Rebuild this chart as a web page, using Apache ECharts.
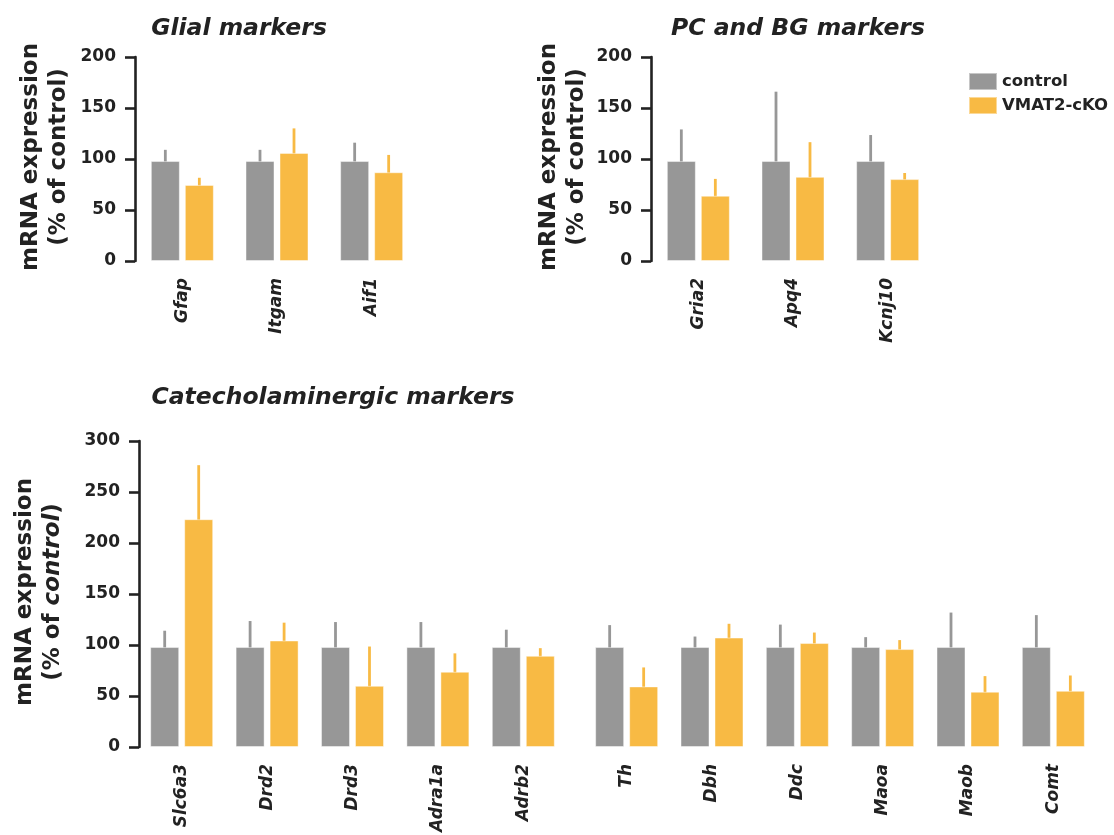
<!DOCTYPE html>
<html>
<head>
<meta charset="utf-8">
<script src="https://cdn.jsdelivr.net/npm/echarts@6/dist/echarts.min.js"></script>
<style>
html,body{margin:0;padding:0;background:#fff;}
#chart{width:1114px;height:835px;}
</style>
</head>
<body>
<div id="chart"></div>
<script>
// ---------- DATA ----------
const seriesNames = ['control', 'VMAT2-cKO'];

const glialCats = ['Gfap', 'Itgam', 'Aif1'];
const glialCtrl = [98, 98, 98];
const glialCtrlErr = [11, 11, 18];
const glialKO = [74.6, 106, 87];
const glialKOErr = [7, 24, 17];

const pcCats = ['Gria2', 'Apq4', 'Kcnj10'];
const pcCtrl = [98, 98, 98];
const pcCtrlErr = [31, 68, 25.5];
const pcKO = [64, 82.5, 80.3];
const pcKOErr = [16.5, 34, 6];

const recCats = ['Slc6a3', 'Drd2', 'Drd3', 'Adra1a', 'Adrb2'];
const recCtrl = [98, 98, 98, 98, 98];
const recCtrlErr = [16, 25.5, 24.5, 24.5, 17];
const recKO = [223.3, 104.4, 60, 73.8, 89.4];
const recKOErr = [53, 17.5, 38.5, 18, 7.5];

const enzCats = ['Th', 'Dbh', 'Ddc', 'Maoa', 'Maob', 'Comt'];
const enzCtrl = [98, 98, 98, 98, 98, 98];
const enzCtrlErr = [21.5, 10.3, 22, 9.7, 33.8, 31.3];
const enzKO = [59.4, 107.3, 101.9, 96, 54.2, 55.1];
const enzKOErr = [18.6, 13.5, 10.3, 8.8, 15.3, 15];

const topTicks = [0, 50, 100, 150, 200];
const bottomTicks = [0, 50, 100, 150, 200, 250, 300];

// ---------- STYLE ----------
const FONT = 'DejaVu Sans';
const GRAY = '#979797';
const ORANGE = '#F8BA44';
const BAR_W = 29;
const GAP_PX = 5;
const AXIS_COLOR = '#222';

const panels = [
  {cats: glialCats, ctrl: glialCtrl, ctrlErr: glialCtrlErr, ko: glialKO, koErr: glialKOErr,
   grid: {left: 135, top: 57, width: 284, height: 204}, ticks: topTicks, showY: true},
  {cats: pcCats, ctrl: pcCtrl, ctrlErr: pcCtrlErr, ko: pcKO, koErr: pcKOErr,
   grid: {left: 651, top: 57, width: 284, height: 204}, ticks: topTicks, showY: true},
  {cats: recCats, ctrl: recCtrl, ctrlErr: recCtrlErr, ko: recKO, koErr: recKOErr,
   grid: {left: 139, top: 441, width: 427, height: 306}, ticks: bottomTicks, showY: true},
  {cats: enzCats, ctrl: enzCtrl, ctrlErr: enzCtrlErr, ko: enzKO, koErr: enzKOErr,
   grid: {left: 584, top: 441, width: 512, height: 306}, ticks: bottomTicks, showY: false}
];

const grids = [], xAxes = [], yAxes = [], series = [];

function errRenderer(offset, color) {
  return function (params, api) {
    const i = api.value(0);
    const base = api.coord([i, api.value(1)]);
    const top = api.coord([i, api.value(2)]);
    return {
      type: 'line',
      shape: {x1: base[0] + offset, y1: base[1] + 1, x2: base[0] + offset, y2: top[1]},
      style: {stroke: color, lineWidth: 2.8}
    };
  };
}

panels.forEach((p, gi) => {
  grids.push(Object.assign({containLabel: false}, p.grid));
  xAxes.push({
    type: 'category', gridIndex: gi, data: p.cats,
    axisLine: {show: false}, axisTick: {show: false},
    axisLabel: {rotate: 90, margin: 17, fontFamily: FONT, fontSize: 17,
      fontWeight: 'bold', fontStyle: 'italic', color: '#222'}
  });
  const maxV = p.ticks[p.ticks.length - 1];
  yAxes.push({
    type: 'value', gridIndex: gi, min: p.ticks[0], max: maxV, interval: p.ticks[1] - p.ticks[0],
    show: p.showY,
    splitLine: {show: false},
    axisLine: {show: true, lineStyle: {color: AXIS_COLOR, width: 2.6}},
    axisTick: {show: true, length: 10, lineStyle: {color: AXIS_COLOR, width: 2.6}},
    axisLabel: {margin: 19, fontFamily: FONT, fontSize: 17, fontWeight: 'bold', color: '#222'}
  });
  const gapPct = (GAP_PX / BAR_W * 100).toFixed(2) + '%';
  series.push({
    name: seriesNames[0], type: 'bar', xAxisIndex: gi, yAxisIndex: gi,
    data: p.ctrl, barWidth: BAR_W, barGap: gapPct,
    itemStyle: {color: GRAY, borderColor: 'rgba(255,255,255,0.45)', borderWidth: 1}
  });
  series.push({
    name: seriesNames[1], type: 'bar', xAxisIndex: gi, yAxisIndex: gi,
    data: p.ko, barWidth: BAR_W, barGap: gapPct,
    itemStyle: {color: ORANGE, borderColor: 'rgba(255,255,255,0.45)', borderWidth: 1}
  });
  const off = (BAR_W + GAP_PX) / 2;
  series.push({
    type: 'custom', xAxisIndex: gi, yAxisIndex: gi, z: 1,
    renderItem: errRenderer(-off, GRAY),
    data: p.ctrl.map((v, i) => [i, v, v + p.ctrlErr[i]])
  });
  series.push({
    type: 'custom', xAxisIndex: gi, yAxisIndex: gi, z: 1,
    renderItem: errRenderer(off, ORANGE),
    data: p.ko.map((v, i) => [i, v, v + p.koErr[i]])
  });
});

const titleFont = 'italic bold 23.5px "' + FONT + '"';
const yTitleFont = 'bold 23px "' + FONT + '"';

function yTitle(x, y, italicControl) {
  return {
    type: 'text', x: x, y: y, rotation: Math.PI / 2,
    style: {
      text: italicControl ? '{a|mRNA expression}\n{a|(% of }{b|control}{a|)}' : 'mRNA expression\n(% of control)',
      font: yTitleFont, fill: '#222', align: 'center', verticalAlign: 'middle', lineHeight: 28,
      rich: {
        a: {fontFamily: FONT, fontSize: 23, fontWeight: 'bold', lineHeight: 28, fill: '#222'},
        b: {fontFamily: FONT, fontSize: 23, fontWeight: 'bold', fontStyle: 'italic', lineHeight: 28, fill: '#222'}
      }
    }
  };
}

const option = {
  animation: false,
  backgroundColor: '#fff',
  grid: grids,
  xAxis: xAxes,
  yAxis: yAxes,
  series: series,
  legend: {
    data: seriesNames, orient: 'vertical', left: 968, top: 72, padding: 0,
    itemWidth: 28, itemHeight: 17, itemGap: 5, icon: 'rect',
    textStyle: {fontFamily: FONT, fontSize: 16.5, fontWeight: 'bold', color: '#222'},
    selectedMode: false
  },
  graphic: [
    {type: 'text', x: 239, y: 29, style: {text: 'Glial markers', font: titleFont, fill: '#222', align: 'center', verticalAlign: 'middle'}},
    {type: 'text', x: 798, y: 29, style: {text: 'PC and BG markers', font: titleFont, fill: '#222', align: 'center', verticalAlign: 'middle'}},
    {type: 'text', x: 333, y: 398, style: {text: 'Catecholaminergic markers', font: titleFont, fill: '#222', align: 'center', verticalAlign: 'middle'}},
    yTitle(45, 157, false),
    yTitle(563, 157, false),
    yTitle(39, 592, true)
  ]
};

const chart = echarts.init(document.getElementById('chart'), null, {renderer: 'canvas'});
chart.setOption(option);
</script>
</body>
</html>
